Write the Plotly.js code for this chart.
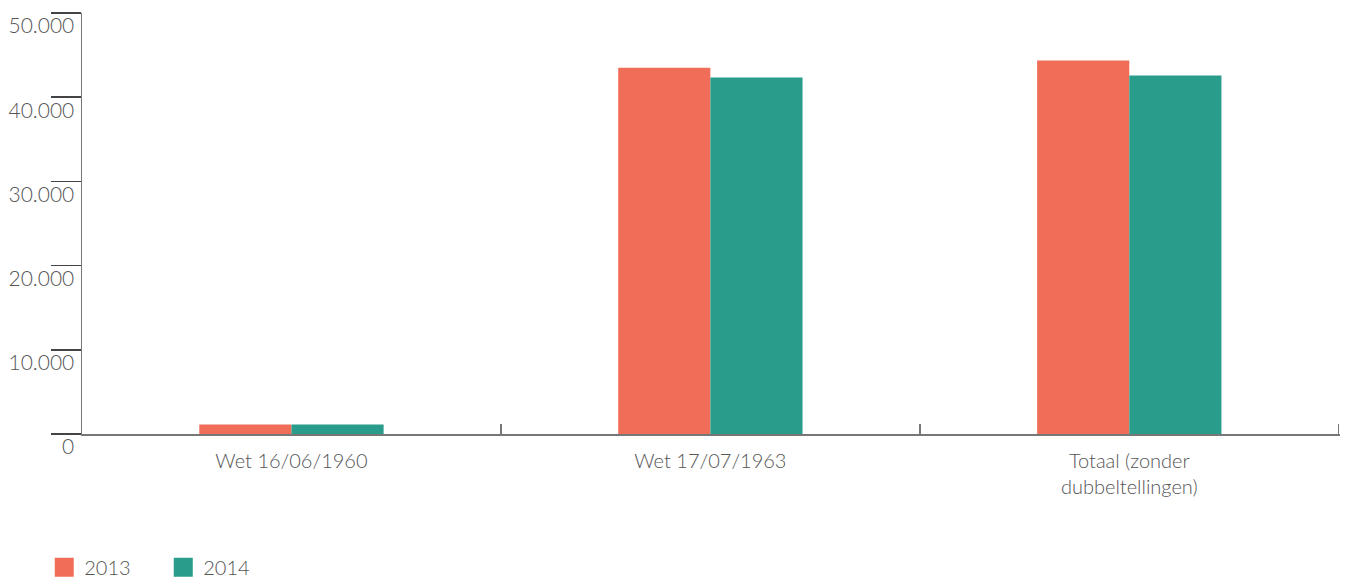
<!DOCTYPE html>
<html>
<head>
<meta charset="utf-8">
<script src="https://cdn.plot.ly/plotly-3.0.1.min.js"></script>
<style>html,body{margin:0;padding:0;background:#fff;}#chart{width:1346px;height:579px;}</style>
</head>
<body>
<div id="chart"></div>
<script>
const categories = ["Wet 16/06/1960", "Wet 17/07/1963", "Totaal (zonder<br>dubbeltellingen)"];
const values2013 = [1130, 43500, 44350];
const values2014 = [1120, 42350, 42580];
const seriesNames = ["2013", "2014"];
const yTickVals = [0, 10000, 20000, 30000, 40000, 50000];

const FONT = "Lato, 'Open Sans', sans-serif";
const traces = [
  {type: "bar", name: seriesNames[0], x: categories, y: values2013, marker: {color: "#F06E58"}, hoverinfo: "none"},
  {type: "bar", name: seriesNames[1], x: categories, y: values2014, marker: {color: "#2A9C8C"}, hoverinfo: "none"}
];
const layout = {
  width: 1346, height: 579,
  margin: {l: 82, r: 6, t: 13, b: 145, autoexpand: false},
  paper_bgcolor: "#fff", plot_bgcolor: "#fff",
  separators: ",.",
  barmode: "group",
  bargap: 0.56,
  bargroupgap: 0,
  font: {family: FONT, color: "#555", size: 18, weight: 300},
  showlegend: true,
  legend: {orientation: "h", x: -0.03, xanchor: "left", y: -0.27, yanchor: "top",
           font: {size: 20, color: "#555", family: FONT, weight: 300},
           itemwidth: 30, entrywidth: 74, entrywidthmode: "pixels", tracegroupgap: 0},
  xaxis: {
    type: "category", range: [-0.5, 2.503],
    showline: true, linecolor: "#777", linewidth: 2,
    ticks: "inside", tickson: "boundaries", ticklen: 10, tickcolor: "#777", tickwidth: 1.5,
    showgrid: false, zeroline: false,
    tickfont: {size: 20, color: "#555", family: FONT, weight: 300},
    ticklabelstandoff: 8
  },
  yaxis: {
    range: [0, 50000], tickvals: yTickVals, tickformat: ",",
    showline: true, linecolor: "#777", linewidth: 1.5,
    ticks: "outside", ticklen: 30, tickcolor: "#444", tickwidth: 1.5,
    showgrid: false, zeroline: false,
    tickfont: {size: 21, color: "#555", family: FONT, weight: 300},
    ticklabelstandoff: -28, ticklabelshift: 13
  }
};
Plotly.newPlot("chart", traces, layout, {displayModeBar: false, staticPlot: true}).then(() => {
  document.querySelectorAll(".legendpoints path").forEach(p => {
    p.setAttribute("d", "M9.5,9.5H-9.5V-9.5H9.5Z");
  });
});
</script>
</body>
</html>
